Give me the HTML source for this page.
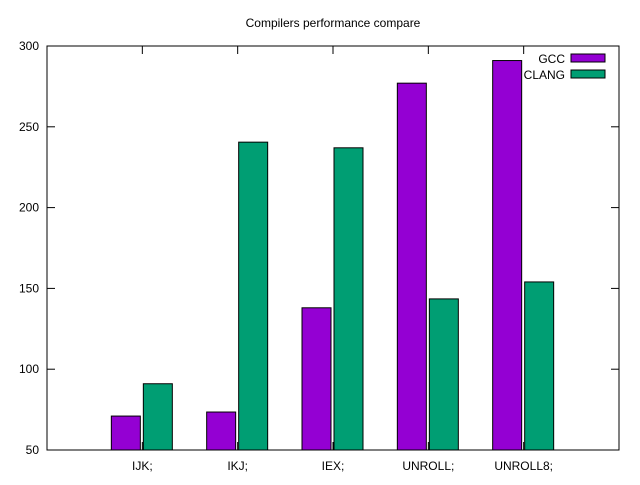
<!DOCTYPE html>
<html><head><meta charset="utf-8"><style>
body{margin:0;background:#fff}
svg text{font-family:"Liberation Sans",sans-serif;font-size:12px;fill:#000}
</style></head><body>
<svg id="chart" width="640" height="480" xmlns="http://www.w3.org/2000/svg">
<text x="333" y="27" text-anchor="middle">Compilers performance compare</text>
<g id="grid"></g>
<g id="bars"></g>
<rect x="47" y="46" width="572" height="404" fill="none" stroke="#000" stroke-width="1"/>
<g id="legend">
<text x="565" y="63" text-anchor="end">GCC</text>
<rect x="571" y="54" width="34" height="8" fill="#9400d3" stroke="#000"/>
<text x="565" y="79" text-anchor="end">CLANG</text>
<rect x="571" y="70" width="34" height="8" fill="#009e73" stroke="#000"/>
</g>
</svg>
<script>
const categories=["IJK;","IKJ;","IEX;","UNROLL;","UNROLL8;"];
const gcc=[71,73.5,138,277,291];
const clang=[91,240.5,237,143.5,154];
const yTicks=[50,100,150,200,250,300];
const L=47,R=619,T=46,B=450;
const x=i=>L+(i+1)*(R-L)/6;
const y=v=>B-(v-50)*(B-T)/250;
const NS="http://www.w3.org/2000/svg";
const g=document.getElementById('grid'),bg=document.getElementById('bars');
function mk(tag,attrs,parent){const e=document.createElementNS(NS,tag);for(const k in attrs)e.setAttribute(k,attrs[k]);parent.appendChild(e);return e;}
yTicks.forEach(v=>{
 const l=mk('line',{x1:L,x2:L+8,y1:y(v),y2:y(v),stroke:'#000'},g);
 
 
 const r=mk('line',{x1:R-8,x2:R,y1:y(v),y2:y(v),stroke:'#000'},g);
 
 
 const t=mk('text',{x:39,y:y(v)+4,'text-anchor':'end'},g);t.textContent=v;
 
 
});
categories.forEach((c,i)=>{
 const cx=x(i);
 const tb=mk('line',{x1:cx,x2:cx,y1:B,y2:B-8,stroke:'#000'},g);
 
 
 const tt=mk('line',{x1:cx,x2:cx,y1:T,y2:T+8,stroke:'#000'},g);
 
 
 const t=mk('text',{x:cx,y:470,'text-anchor':'middle'},g);t.textContent=c;
 
 
 const b1=mk('rect',{x:cx-31,y:y(gcc[i]),width:29,height:B-y(gcc[i]),fill:'#9400d3',stroke:'#000'},bg);
 
 
 const b2=mk('rect',{x:cx+1,y:y(clang[i]),width:29,height:B-y(clang[i]),fill:'#009e73',stroke:'#000'},bg);
 
 
});
</script>
</body></html>
